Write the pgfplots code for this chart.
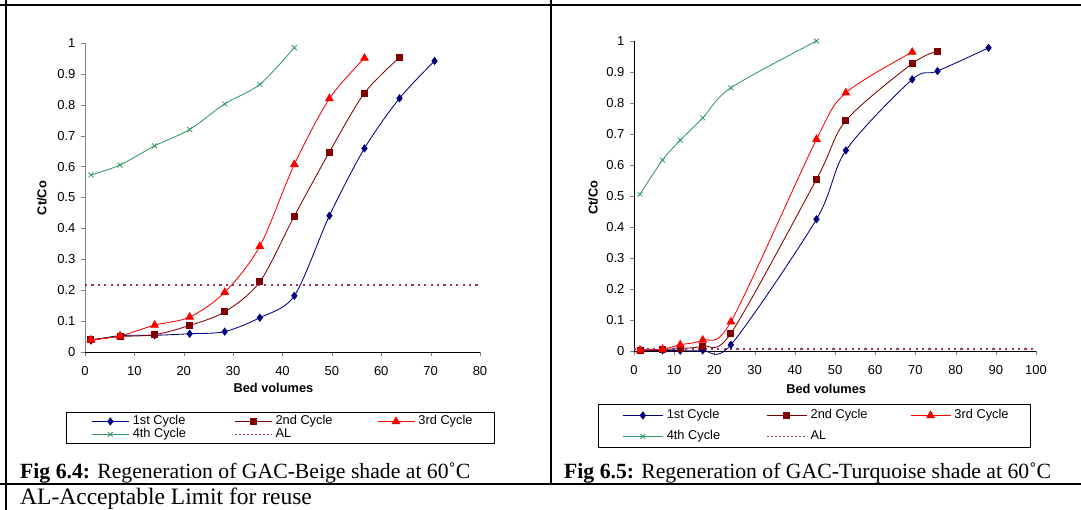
\documentclass[border=0pt]{standalone}
\usepackage{fontspec}
\setmainfont{Liberation Serif}
\newfontfamily\arial{Liberation Sans}
\usepackage{pgfplots}
\pgfplotsset{compat=1.18}
\definecolor{cnavy}{RGB}{0,0,128}
\definecolor{cmaroon}{RGB}{128,0,0}
\definecolor{cred}{RGB}{255,0,0}
\definecolor{cgreen}{RGB}{51,153,102}
\definecolor{cplum}{RGB}{153,51,102}
\pgfplotsset{
  panel/.style={
    scale only axis, axis lines*=left, axis line style={-}, tick align=outside,
    major tick length=4pt, ymin=0, ymax=1, clip=false,
    ytick={0,0.1,0.2,0.3,0.4,0.5,0.6,0.7,0.8,0.9,1},
    yticklabels={0,0.1,0.2,0.3,0.4,0.5,0.6,0.7,0.8,0.9,1},
    tick label style={font=\arial\fontsize{13}{15}\selectfont},
    xticklabel style={yshift=-7pt},
    yticklabel style={xshift=-2pt},
    /pgf/number format/assume math mode=true,
    label style={font=\arial\bfseries\fontsize{12.8}{15}\selectfont},
    xlabel={Bed volumes}, ylabel={Ct/Co},
    legend columns=3,
    legend style={draw=black, line width=0.9pt, fill=white, column sep=0pt,
      font=\arial\fontsize{12.8}{15}\selectfont,
      nodes={inner sep=0pt, text height=9pt, text depth=2.5pt}},
    every axis plot/.append style={line width=0.85pt},
  },
  s1/.style={cnavy, smooth, mark=diamond*, mark size=3.5pt, mark options={solid,fill=cnavy}},
  s2/.style={cmaroon, smooth, mark=square*, mark size=3pt, mark options={solid,fill=cmaroon}},
  s3/.style={cred, smooth, mark=triangle*, mark size=4.3pt, mark options={solid,fill=cred}},
  s4/.style={cgreen, smooth, mark=x, mark size=3.4pt, mark options={solid}},
  limg/.style={legend image code/.code={\draw[mark repeat=2,mark phase=2,##1,line width=0.85pt] plot coordinates {(0pt,0pt) (#1/2,0pt) (#1,0pt)};}},
  alimg/.style={legend image code/.code={\draw[cplum, line width=0.7pt, dash pattern=on 2pt off 2pt] (0pt,0pt) -- (#1,0pt);}},
}
\newcommand{\lt}[2]{\makebox[#1][l]{\hspace{3.5pt}#2}}
\begin{document}
\begin{tikzpicture}
\useasboundingbox (0,0) rectangle (1081pt,-510pt);
\fill[white] (0,0) rectangle (1081pt,-510pt);
% ---------- left panel ----------
\begin{axis}[panel, at={(85pt,-352pt)}, anchor=south west, width=395pt, height=309pt,
  xmin=0, xmax=80, xtick={0,10,20,30,40,50,60,70,80},
  y axis line style={gray}, ytick style={gray},
  xlabel style={at={(axis description cs:0.477,-0.1165)}, anchor=center},
  ylabel style={at={(axis description cs:-0.109,0.498)}, anchor=center, rotate=0},
  legend style={at={(axis description cs:-0.0482,-0.1942)}, anchor=north west,
    inner xsep=25pt, inner ysep=3.25pt, row sep=1.5pt}]
\addplot[s1, limg=37pt] coordinates {(1.2,0.037) (7.1,0.053) (14.1,0.054) (21.2,0.059) (28.3,0.066) (35.4,0.111) (42.4,0.182) (49.5,0.441) (56.6,0.659) (63.7,0.821) (70.8,0.942)};
\addlegendentry{\lt{105pt}{1st Cycle}}
\addplot[s2, limg=37pt] coordinates {(1.2,0.040) (7.1,0.050) (14.1,0.056) (21.2,0.086) (28.3,0.130) (35.4,0.227) (42.4,0.440) (49.5,0.647) (56.6,0.838) (63.7,0.953)};
\addlegendentry{\lt{105pt}{2nd Cycle}}
\addplot[s3, limg=37pt] coordinates {(1.2,0.039) (7.1,0.052) (14.1,0.087) (21.2,0.113) (28.3,0.193) (35.4,0.342) (42.4,0.607) (49.5,0.820) (56.6,0.951)};
\addlegendentry{\lt{54pt}{3rd Cycle}}
\addplot[s4, limg=37pt] coordinates {(1.2,0.573) (7.1,0.605) (14.1,0.667) (21.2,0.720) (28.3,0.803) (35.4,0.866) (42.4,0.985)};
\addlegendentry{\lt{105pt}{4th Cycle}}
\addplot[cplum, line width=2pt, dash pattern=on 2.2pt off 4.2pt, alimg=37pt] coordinates {(0,0.217) (80,0.217)};
\addlegendentry{\lt{105pt}{AL}}
\end{axis}
% ---------- right panel ----------
\begin{axis}[panel, at={(634pt,-351pt)}, anchor=south west, width=402pt, height=310pt,
  xmin=0, xmax=100, xtick={0,10,20,30,40,50,60,70,80,90,100},
  xlabel style={at={(axis description cs:0.478,-0.1226)}, anchor=center},
  ylabel style={at={(axis description cs:-0.102,0.494)}, anchor=center, rotate=0},
  legend style={at={(axis description cs:-0.0896,-0.171)}, anchor=north west,
    inner xsep=24pt, inner ysep=5.25pt, row sep=9.5pt}]
\addplot[s1, limg=40pt] coordinates {(1.5,0.002) (7.1,0.002) (11.5,0.001) (17.1,0.002) (24.1,0.020) (45.4,0.425) (52.7,0.647) (69.2,0.876) (75.5,0.903) (88.2,0.978)};
\addlegendentry{\lt{103pt}{1st Cycle}}
\addplot[s2, limg=40pt] coordinates {(1.5,0.003) (7.1,0.005) (11.5,0.008) (17.1,0.016) (24.1,0.057) (45.4,0.554) (52.7,0.743) (69.2,0.927) (75.5,0.967)};
\addlegendentry{\lt{103pt}{2nd Cycle}}
\addplot[s3, limg=40pt] coordinates {(1.5,0.003) (7.1,0.006) (11.5,0.020) (17.1,0.035) (24.1,0.094) (45.4,0.683) (52.7,0.833) (69.2,0.964)};
\addlegendentry{\lt{55pt}{3rd Cycle}}
\addplot[s4, limg=40pt] coordinates {(1.5,0.506) (7.1,0.616) (11.5,0.680) (17.1,0.752) (24.1,0.849) (45.4,1.000)};
\addlegendentry{\lt{103pt}{4th Cycle}}
\addplot[cplum, line width=2pt, dash pattern=on 2.2pt off 4.2pt, alimg=40pt] coordinates {(0,0.007) (100,0.007)};
\addlegendentry{\lt{103pt}{AL}}
\end{axis}
% ---------- table frame and captions ----------
\draw[line width=2pt] (0,-5.5pt) -- (1081pt,-5.5pt);
\draw[line width=2pt] (6pt,0) -- (6pt,-510pt);
\draw[line width=2pt] (551pt,0) -- (551pt,-484pt);
\draw[line width=2pt] (0,-484pt) -- (1081pt,-484pt);
\node[anchor=base west, inner sep=0pt, font=\fontsize{21.7}{26}\selectfont] at (20pt,-478pt) {\textbf{Fig 6.4:} Regeneration of GAC-Beige shade at 60˚C};
\node[anchor=base west, inner sep=0pt, font=\fontsize{21.7}{26}\selectfont] at (564pt,-478pt) {\textbf{Fig 6.5:} Regeneration of GAC-Turquoise shade at 60˚C};
\node[anchor=base west, inner sep=0pt, font=\fontsize{23.5}{28}\selectfont] at (20pt,-504pt) {AL-Acceptable Limit for reuse};
\end{tikzpicture}
\end{document}
